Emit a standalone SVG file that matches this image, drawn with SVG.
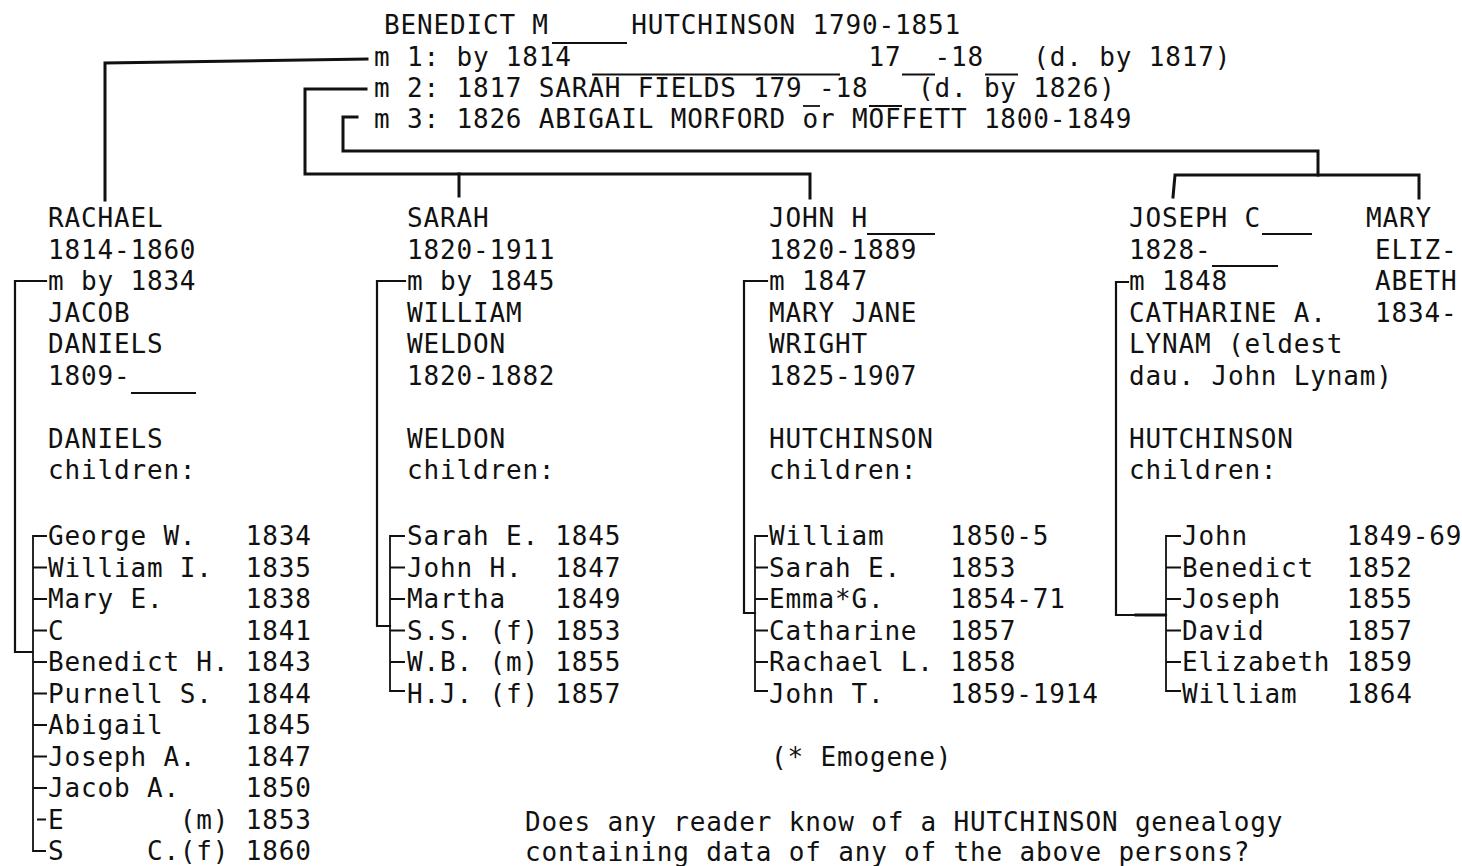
<svg xmlns="http://www.w3.org/2000/svg" width="1462" height="866" viewBox="0 0 1462 866" xml:space="preserve">
<style>
  text { font-family: "DejaVu Sans Mono", "Liberation Mono", monospace; font-size: 26px; letter-spacing: 0.83px; fill: #111; white-space: pre; }
  .main { fill: none; stroke: #111; stroke-width: 3; stroke-linejoin: miter; stroke-linecap: square; }
  .fam { fill: none; stroke: #111; stroke-width: 2.2; stroke-linecap: square; }
  .kid { fill: none; stroke: #111; stroke-width: 1.8; stroke-linecap: butt; }
  .ul { stroke: #111; stroke-width: 1.8; }
</style>
<rect x="0" y="0" width="1462" height="866" fill="#fff"/>

<g id="connectors">
  <!-- Benedict to children -->
  <path class="main" d="M105 200 L105 63 L367 59"/>
  <path class="main" d="M366 89 L305 89 L305 174 L810 174 L810 198"/>
  <path class="main" d="M459 174 L459 196"/>
  <path class="main" d="M357 117 L343 117 L343 151 L1318 151 L1318 175"/>
  <path class="main" d="M1173 197 L1175 175 L1419 175 L1419 198"/>
  <!-- Rachael marriage to Daniels children -->
  <path class="fam" d="M46 281 L15 281 L15 652 L32 652"/>
  <path class="kid" d="M47 536 L33 536 L33 851 L46 851 M33 567.5 L47 567.5 M33 599 L47 599 M33 630.5 L47 630.5 M33 662 L47 662 M33 693.5 L47 693.5 M33 725 L47 725 M33 756.5 L47 756.5 M33 788 L47 788 M37 819.5 L46 819.5"/>
  <!-- Sarah marriage to Weldon children -->
  <path class="fam" d="M405 281 L377 281 L377 626 L390 626"/>
  <path class="kid" d="M405 536 L390 536 L390 691 L405 691 M390 567.5 L405 567.5 M390 599 L405 599 M390 630.5 L405 630.5 M390 662 L405 662"/>
  <!-- John H marriage to Hutchinson children -->
  <path class="fam" d="M767 281 L744 281 L744 613 L755 613"/>
  <path class="kid" d="M768 536 L755 536 L755 691 L768 691 M755 567.5 L768 567.5 M755 599 L768 599 M755 630.5 L768 630.5 M755 662 L768 662"/>
  <!-- Joseph C marriage to Hutchinson children -->
  <path class="fam" d="M1128 282 L1116 282 L1116 615 L1166 615"/>
  <path class="main" d="M1136 615 L1165 615"/>
  <path class="kid" d="M1181 536 L1166 536 L1166 691 L1181 691 M1166 567.5 L1181 567.5 M1166 599 L1181 599 M1166 630.5 L1181 630.5 M1166 662 L1181 662"/>
</g>

<g id="benedict">
  <text x="384" y="34">BENEDICT M     HUTCHINSON 1790-1851</text>
  <text x="374" y="65.5">m 1: by 1814                  17  -18   (d. by 1817)</text>
  <text x="374" y="97">m 2: 1817 SARAH FIELDS 179 -18   (d. by 1826)</text>
  <text x="374" y="128">m 3: 1826 ABIGAIL MORFORD or MOFFETT 1800-1849</text>
  <line class="ul" x1="552" y1="43" x2="627" y2="43"/>
  <line class="ul" x1="592" y1="74.5" x2="840" y2="74.5"/>
  <line class="ul" x1="902" y1="74.5" x2="935" y2="74.5"/>
  <line class="ul" x1="985" y1="74.5" x2="1018" y2="74.5"/>
  <line class="ul" x1="803" y1="106" x2="820" y2="106"/>
  <line class="ul" x1="869" y1="106" x2="902" y2="106"/>
</g>

<g id="rachael">
  <text x="48" y="227">RACHAEL</text>
  <text x="48" y="258.5">1814-1860</text>
  <text x="48" y="290">m by 1834</text>
  <text x="48" y="321.5">JACOB</text>
  <text x="48" y="353">DANIELS</text>
  <text x="48" y="384.5">1809-</text>
  <line class="ul" x1="131" y1="393" x2="196" y2="393"/>
  <text x="48" y="447.5">DANIELS</text>
  <text x="48" y="479">children:</text>
</g>

<g id="daniels-children">
  <text x="48" y="545">George W.   1834</text>
  <text x="48" y="576.5">William I.  1835</text>
  <text x="48" y="608">Mary E.     1838</text>
  <text x="48" y="639.5">C           1841</text>
  <text x="48" y="671">Benedict H. 1843</text>
  <text x="48" y="702.5">Purnell S.  1844</text>
  <text x="48" y="734">Abigail     1845</text>
  <text x="48" y="765.5">Joseph A.   1847</text>
  <text x="48" y="797">Jacob A.    1850</text>
  <text x="48" y="828.5">E       (m) 1853</text>
  <text x="48" y="860">S     C.(f) 1860</text>
</g>

<g id="sarah">
  <text x="407" y="227">SARAH</text>
  <text x="407" y="258.5">1820-1911</text>
  <text x="407" y="290">m by 1845</text>
  <text x="407" y="321.5">WILLIAM</text>
  <text x="407" y="353">WELDON</text>
  <text x="407" y="384.5">1820-1882</text>
  <text x="407" y="447.5">WELDON</text>
  <text x="407" y="479">children:</text>
</g>

<g id="weldon-children">
  <text x="407" y="545">Sarah E. 1845</text>
  <text x="407" y="576.5">John H.  1847</text>
  <text x="407" y="608">Martha   1849</text>
  <text x="407" y="639.5">S.S. (f) 1853</text>
  <text x="407" y="671">W.B. (m) 1855</text>
  <text x="407" y="702.5">H.J. (f) 1857</text>
</g>

<g id="john-h">
  <text x="769" y="227">JOHN H</text>
  <line class="ul" x1="867" y1="234" x2="935" y2="234"/>
  <text x="769" y="258.5">1820-1889</text>
  <text x="769" y="290">m 1847</text>
  <text x="769" y="321.5">MARY JANE</text>
  <text x="769" y="353">WRIGHT</text>
  <text x="769" y="384.5">1825-1907</text>
  <text x="769" y="447.5">HUTCHINSON</text>
  <text x="769" y="479">children:</text>
</g>

<g id="john-h-children">
  <text x="769" y="545">William    1850-5</text>
  <text x="769" y="576.5">Sarah E.   1853</text>
  <text x="769" y="608">Emma*G.    1854-71</text>
  <text x="769" y="639.5">Catharine  1857</text>
  <text x="769" y="671">Rachael L. 1858</text>
  <text x="769" y="702.5">John T.    1859-1914</text>
</g>

<g id="joseph-c">
  <text x="1129" y="227">JOSEPH C</text>
  <line class="ul" x1="1262" y1="234" x2="1312" y2="234"/>
  <text x="1129" y="258.5">1828-</text>
  <line class="ul" x1="1212" y1="266" x2="1278" y2="266"/>
  <text x="1129" y="290">m 1848</text>
  <text x="1129" y="321.5">CATHARINE A.</text>
  <text x="1129" y="353">LYNAM (eldest</text>
  <text x="1129" y="384.5">dau. John Lynam)</text>
  <text x="1129" y="447.5">HUTCHINSON</text>
  <text x="1129" y="479">children:</text>
</g>

<g id="joseph-c-children">
  <text x="1182" y="545">John      1849-69</text>
  <text x="1182" y="576.5">Benedict  1852</text>
  <text x="1182" y="608">Joseph    1855</text>
  <text x="1182" y="639.5">David     1857</text>
  <text x="1182" y="671">Elizabeth 1859</text>
  <text x="1182" y="702.5">William   1864</text>
</g>

<g id="mary-elizabeth">
  <text x="1366" y="227">MARY</text>
  <text x="1375" y="258.5">ELIZ-</text>
  <text x="1375" y="290">ABETH</text>
  <text x="1375" y="321.5">1834-</text>
</g>

<g id="notes">
  <text x="771" y="766">(* Emogene)</text>
  <text x="525" y="831">Does any reader know of a HUTCHINSON genealogy</text>
  <text x="525" y="861">containing data of any of the above persons?</text>
</g>
</svg>
